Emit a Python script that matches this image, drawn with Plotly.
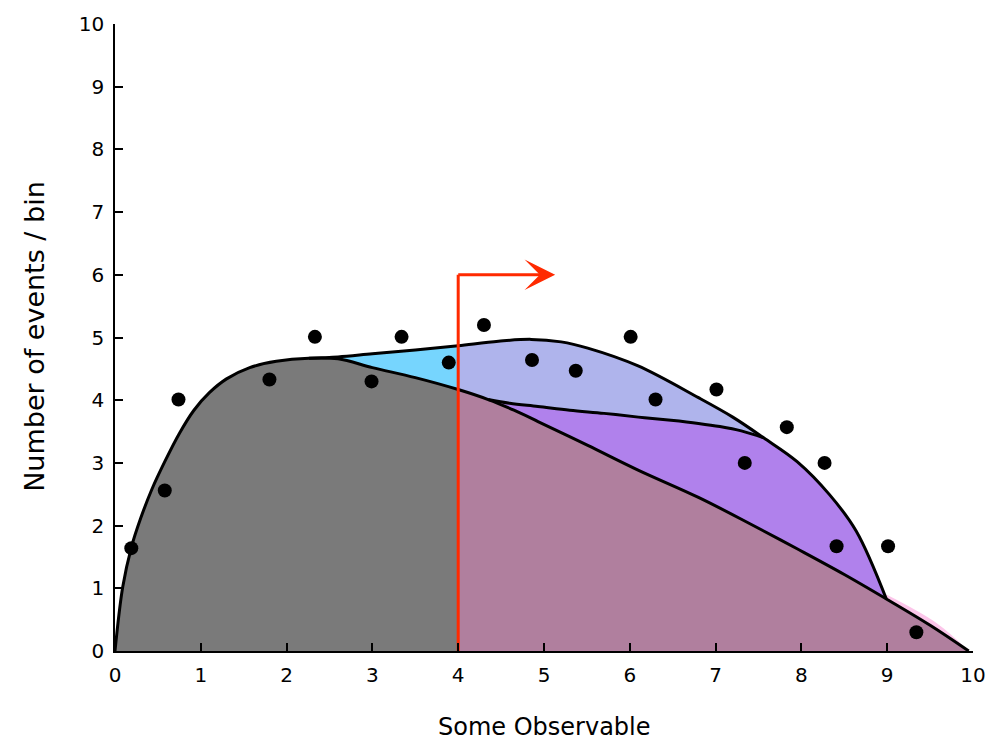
import numpy as np
import plotly.graph_objects as go

# ---- data ----
bkg_x = [0, 0.09, 0.19, 0.3, 0.43, 0.58, 0.75, 0.92, 1.10, 1.30, 1.57, 1.88, 2.26, 2.6, 3.0,
         3.5, 4.0, 4.35, 4.65, 4.93, 5.51, 6.09, 6.8, 7.4, 7.95, 8.5, 8.99, 9.5, 9.95]
bkg_y = [0, 1.02, 1.65, 2.12, 2.58, 3.02, 3.47, 3.84, 4.12, 4.34, 4.52, 4.62, 4.67, 4.66, 4.52,
         4.36, 4.17, 4.01, 3.84, 3.66, 3.28, 2.89, 2.45, 2.03, 1.63, 1.22, 0.83, 0.41, 0.0]

tot_x = [2.26, 2.6, 3.0, 3.5, 4.0, 4.47, 4.85, 5.2, 5.51, 6.09, 6.8, 7.2, 7.56, 7.95, 8.33, 8.64, 8.99]
tot_y = [4.67, 4.69, 4.74, 4.80, 4.87, 4.94, 4.97, 4.93, 4.83, 4.55, 4.04, 3.73, 3.40, 3.02, 2.49, 1.91, 0.83]

sig2_x = [4.35, 4.6, 4.93, 5.30, 5.70, 6.10, 6.48, 6.80, 7.05, 7.3, 7.56]
sig2_y = [4.01, 3.95, 3.90, 3.84, 3.79, 3.73, 3.68, 3.63, 3.58, 3.51, 3.40]

pink_x = [8.99, 9.57, 9.95]
pink_y = [0.90, 0.45, 0.0]

data_x = [0.19, 0.58, 0.74, 1.80, 2.33, 2.99, 3.34, 3.89, 4.30, 4.86, 5.37, 6.01, 6.30,
          7.01, 7.34, 7.83, 8.27, 8.41, 9.01, 9.34]
data_y = [1.64, 2.56, 4.01, 4.33, 5.01, 4.30, 5.01, 4.60, 5.20, 4.64, 4.47, 5.01, 4.01,
          4.17, 3.00, 3.57, 3.00, 1.67, 1.67, 0.30]

cut_x = 4.0
cut_y = 6.0
arrow_end_x = 5.13

x_ticks = list(range(0, 11))
y_ticks = list(range(0, 11))

# ---- helpers ----
bx, by = np.array(bkg_x), np.array(bkg_y)
tx, ty = np.array(tot_x), np.array(tot_y)
sx, sy = np.array(sig2_x), np.array(sig2_y)


def seg(x, y, a, b):
    m = (x >= a - 1e-9) & (x <= b + 1e-9)
    return x[m], y[m]


fig = go.Figure()


def area(x, y, color):
    fig.add_trace(go.Scatter(x=x, y=y, mode='lines', line=dict(width=0, shape='spline'),
                             fill='tozeroy', fillcolor=color, hoverinfo='skip', showlegend=False))


def band(xl, yl, xu, yu, color):
    fig.add_trace(go.Scatter(x=xl, y=yl, mode='lines', line=dict(width=0, shape='spline'),
                             hoverinfo='skip', showlegend=False))
    fig.add_trace(go.Scatter(x=xu, y=yu, mode='lines', line=dict(width=0, shape='spline'),
                             fill='tonexty', fillcolor=color, hoverinfo='skip', showlegend=False))


GRAY = '#7a7a7a'
MAUVE = '#b07f9e'
BLUE = '#76d5fe'
LAV = '#afb4ec'
PURPLE = '#b081ec'
PINK = '#fcc6ea'
RED = '#ff2a00'

# background areas
x, y = seg(bx, by, 0, cut_x)
area(x, y, GRAY)
x, y = seg(bx, by, cut_x, 10)
area(x, y, MAUVE)

# pink sliver
x, y = seg(bx, by, 8.99, 10)
band(x, y, pink_x, pink_y, PINK)

# light blue (left of cut)
xl, yl = seg(bx, by, 2.26, cut_x)
xu, yu = seg(tx, ty, 2.26, cut_x)
band(xl, yl, xu, yu, BLUE)

# purple (right of cut, all signal)
xl, yl = seg(bx, by, cut_x, 8.99)
xu, yu = seg(tx, ty, cut_x, 8.99)
band(xl, yl, xu, yu, PURPLE)

# lavender (between second component and total)
xl1, yl1 = seg(bx, by, cut_x, 4.35)
xl = np.concatenate([xl1[:-1], sx])
yl = np.concatenate([yl1[:-1], sy])
xu, yu = seg(tx, ty, cut_x, 7.56)
band(xl, yl, xu, yu, LAV)

# outline curves
for cx, cy in [(bkg_x, bkg_y), (tot_x, tot_y), (sig2_x, sig2_y)]:
    fig.add_trace(go.Scatter(x=cx, y=cy, mode='lines',
                             line=dict(color='black', width=3, shape='spline'),
                             hoverinfo='skip', showlegend=False))

# red cut line
fig.add_trace(go.Scatter(x=[cut_x, cut_x], y=[0, cut_y], mode='lines',
                         line=dict(color=RED, width=3), hoverinfo='skip', showlegend=False))
fig.add_annotation(x=arrow_end_x, y=cut_y, ax=cut_x - 0.017, ay=cut_y, xref='x', yref='y',
                   axref='x', ayref='y', text='', showarrow=True, arrowhead=3,
                   arrowsize=1.7, arrowwidth=3, arrowcolor=RED)

# data points
fig.add_trace(go.Scatter(x=data_x, y=data_y, mode='markers',
                         marker=dict(color='black', size=14), showlegend=False))

axis_common = dict(range=[0, 10], showgrid=False, zeroline=False, showline=True,
                   linecolor='black', linewidth=1.5, ticks='inside', ticklen=8,
                   tickwidth=1.5, tickcolor='black', ticklabelstandoff=5,
                   tickfont=dict(family='DejaVu Sans', size=20, color='black'))

fig.update_xaxes(tickvals=x_ticks, ticktext=[str(v) for v in x_ticks], **axis_common)
fig.update_yaxes(tickvals=y_ticks, ticktext=[str(v) for v in y_ticks], **axis_common)

fig.add_annotation(text='Some Observable', xref='paper', yref='paper', x=0.5, y=-0.1216,
                   xanchor='center', yanchor='middle', showarrow=False,
                   font=dict(family='DejaVu Sans', size=24, color='black'))
fig.add_annotation(text='Number of events / bin', xref='paper', yref='paper', x=-0.094, y=0.5016,
                   xanchor='center', yanchor='middle', textangle=-90, showarrow=False,
                   font=dict(family='DejaVu Sans', size=27, color='black'))

fig.update_layout(width=998, height=741, margin=dict(l=115, r=21, t=18, b=90),
                  plot_bgcolor='white', paper_bgcolor='white')

fig.write_html('out.html')
